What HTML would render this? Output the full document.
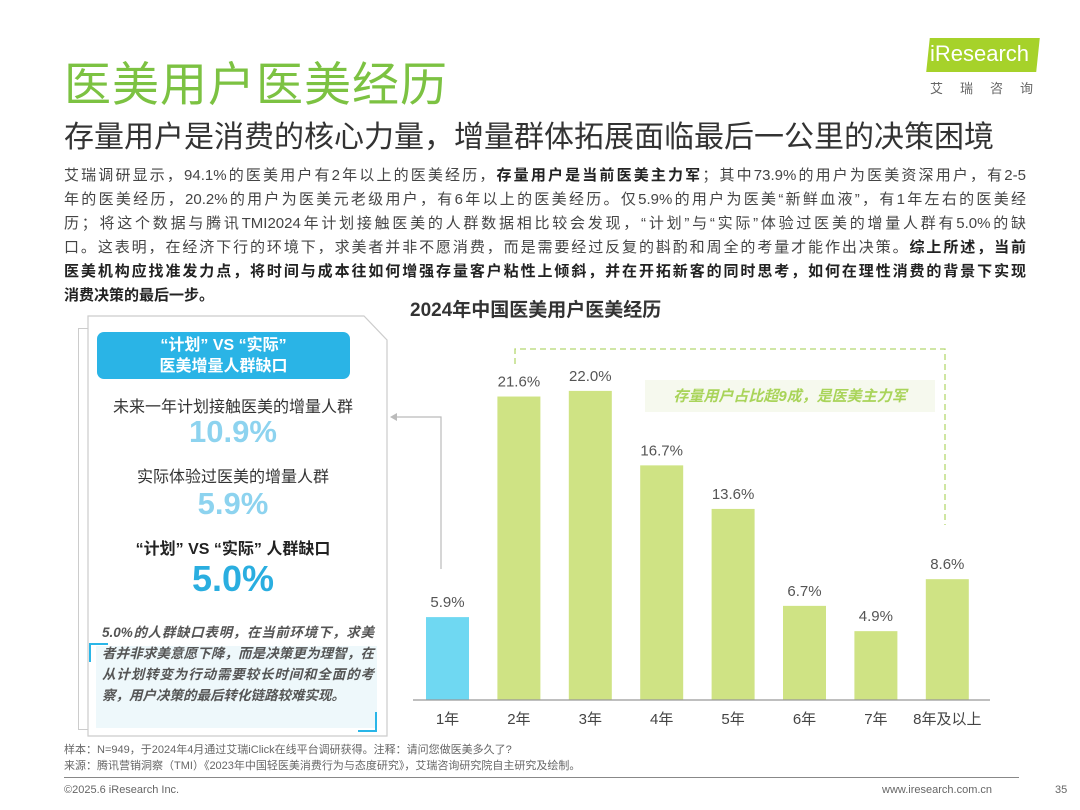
<!DOCTYPE html>
<html><head><meta charset="utf-8">
<style>
body{margin:0;width:1080px;height:810px;background:#fff;position:relative;overflow:hidden;font-family:"Liberation Sans","Noto Sans CJK SC",sans-serif;color:#333}
.abs{position:absolute}
.para div{text-align:justify;text-align-last:justify;height:24px;line-height:24px;white-space:nowrap}
.para b{color:#222}
</style></head><body>
<div class="abs" style="left:64px;top:46px;font-size:47px;color:#7cc242;letter-spacing:1px">医美用户医美经历</div>
<div class="abs" style="left:928px;top:38px;width:110px;height:34px;background:#a6d22a;transform:skewX(-6deg)"></div>
<div class="abs" style="left:930px;top:41px;font-size:22px;color:#fff">iResearch</div>
<div class="abs" style="left:930px;top:78px;font-size:13px;color:#666;letter-spacing:17px">艾瑞咨询</div>
<div class="abs" style="left:64px;top:112px;font-size:30px;color:#333">存量用户是消费的核心力量，增量群体拓展面临最后一公里的决策困境</div>
<div class="abs para" style="left:64px;top:164px;width:962px;font-size:15px;color:#444">
<div>艾瑞调研显示，94.1%的医美用户有2年以上的医美经历，<b>存量用户是当前医美主力军</b>；其中73.9%的用户为医美资深用户，有2-5</div>
<div>年的医美经历，20.2%的用户为医美元老级用户，有6年以上的医美经历。仅5.9%的用户为医美“新鲜血液”，有1年左右的医美经</div>
<div>历；将这个数据与腾讯TMI2024年计划接触医美的人群数据相比较会发现，“计划”与“实际”体验过医美的增量人群有5.0%的缺</div>
<div>口。这表明，在经济下行的环境下，求美者并非不愿消费，而是需要经过反复的斟酌和周全的考量才能作出决策。<b>综上所述，当前</b></div>
<div><b>医美机构应找准发力点，将时间与成本往如何增强存量客户粘性上倾斜，并在开拓新客的同时思考，如何在理性消费的背景下实现</b></div>
<div style="text-align-last:left"><b>消费决策的最后一步。</b></div>
</div>
<div class="abs" style="left:410px;top:295px;font-size:19px;font-weight:bold;color:#333">2024年中国医美用户医美经历</div>

<div class="abs" style="left:78px;top:328px;width:296px;height:400px;border:1px solid #ccc"></div>
<svg class="abs" style="left:0;top:0" width="1080" height="810">
<polygon points="88,316 364,316 387,340 387,736 88,736" fill="#fff" stroke="#ccc" stroke-width="1.2"/>
<polygon points="390,417 397,413 397,421" fill="#bbb"/>
<polyline points="397,417 441,417 441,569" fill="none" stroke="#bbb" stroke-width="1.2"/>
<rect x="96" y="646" width="281" height="82" fill="#eef8fb"/>
<polyline points="90,662 90,644 108,644" fill="none" stroke="#29b6e8" stroke-width="2"/>
<polyline points="358,731 376,731 376,712" fill="none" stroke="#29b6e8" stroke-width="2"/>
</svg>
<div class="abs" style="left:97px;top:332px;width:253px;height:47px;background:#2ab4e6;border-radius:7px;color:#fff;font-weight:bold;font-size:16px;text-align:center;line-height:21px;padding-top:3px;box-sizing:border-box">“计划” VS “实际”<br>医美增量人群缺口</div>
<div class="abs" style="left:88px;width:290px;top:393px;text-align:center;font-size:16px;color:#333">未来一年计划接触医美的增量人群</div>
<div class="abs" style="left:88px;width:290px;top:414px;text-align:center;font-size:31px;font-weight:bold;color:#8dd3ef">10.9%</div>
<div class="abs" style="left:88px;width:290px;top:463px;text-align:center;font-size:16px;color:#333">实际体验过医美的增量人群</div>
<div class="abs" style="left:88px;width:290px;top:486px;text-align:center;font-size:31px;font-weight:bold;color:#8dd3ef">5.9%</div>
<div class="abs" style="left:88px;width:290px;top:535px;text-align:center;font-size:16px;font-weight:bold;color:#222">“计划” VS “实际” 人群缺口</div>
<div class="abs" style="left:88px;width:290px;top:558px;text-align:center;font-size:36px;font-weight:bold;color:#2aaee0">5.0%</div>
<div class="abs" style="left:102px;top:622px;width:272px;font-size:13.5px;font-weight:bold;font-style:italic;color:#555;line-height:21px;text-align:justify">5.0%的人群缺口表明，在当前环境下，求美者并非求美意愿下降，而是决策更为理智，在从计划转变为行动需要较长时间和全面的考察，用户决策的最后转化链路较难实现。</div>

<svg id="chart" class="abs" style="left:0;top:0" width="1080" height="810">
<rect x="645" y="380" width="290" height="32" fill="#f6f9ee"/>
<polyline points="515,364 515,349 945,349 945,525" fill="none" stroke="#b5d870" stroke-width="1.3" stroke-dasharray="6,4"/>
<text x="790" y="401" text-anchor="middle" font-size="15" font-weight="bold" font-style="italic" fill="#a9d45a" font-family="Liberation Sans,Noto Sans CJK SC,sans-serif">存量用户占比超9成，是医美主力军</text>
</svg>
<script>
const categories=["1年","2年","3年","4年","5年","6年","7年","8年及以上"];
const values=[5.9,21.6,22.0,16.7,13.6,6.7,4.9,8.6];
const valueLabels=["5.9%","21.6%","22.0%","16.7%","13.6%","6.7%","4.9%","8.6%"];
const svg=document.getElementById('chart');const NS='http://www.w3.org/2000/svg';
const base=700, pxPer=14.05, x0=426, step=71.4, bw=43;
const xs=i=>x0+i*step, ys=v=>base-v*pxPer;
function mk(t,a){const e=document.createElementNS(NS,t);for(const k in a)e.setAttribute(k,a[k]);svg.appendChild(e);return e;}
categories.forEach((c,i)=>{
 const r=mk('rect',{x:xs(i),y:ys(values[i]),width:bw,height:base-ys(values[i]),fill:i===0?'#6fd8f2':'#cfe384'});
 
 
 const l=mk('text',{x:xs(i)+bw/2,y:ys(values[i])-10,'text-anchor':'middle','font-size':15,fill:'#555','font-family':'Liberation Sans,sans-serif'});
 l.textContent=valueLabels[i];
 
 
 const t=mk('text',{x:xs(i)+bw/2,y:base+24,'text-anchor':'middle','font-size':15,fill:'#444','font-family':'Liberation Sans,Noto Sans CJK SC,sans-serif'});
 t.textContent=c;
 
 
});
const ax=mk('line',{x1:413,x2:990,y1:base,y2:base,stroke:'#999','stroke-width':1.3});


</script>

<div class="abs" style="left:64px;top:742px;font-size:11px;color:#666;line-height:16px">样本：N=949，于2024年4月通过艾瑞iClick在线平台调研获得。注释：请问您做医美多久了?<br>来源：腾讯营销洞察（TMI）《2023年中国轻医美消费行为与态度研究》，艾瑞咨询研究院自主研究及绘制。</div>
<div class="abs" style="left:64px;top:777px;width:955px;height:1px;background:#888"></div>
<div class="abs" style="left:64px;top:784px;font-size:11px;color:#666">©2025.6 iResearch Inc.</div>
<div class="abs" style="left:882px;top:784px;font-size:11px;color:#666">www.iresearch.com.cn</div>
<div class="abs" style="left:1055px;top:784px;font-size:11px;color:#666">35</div>
</body></html>
